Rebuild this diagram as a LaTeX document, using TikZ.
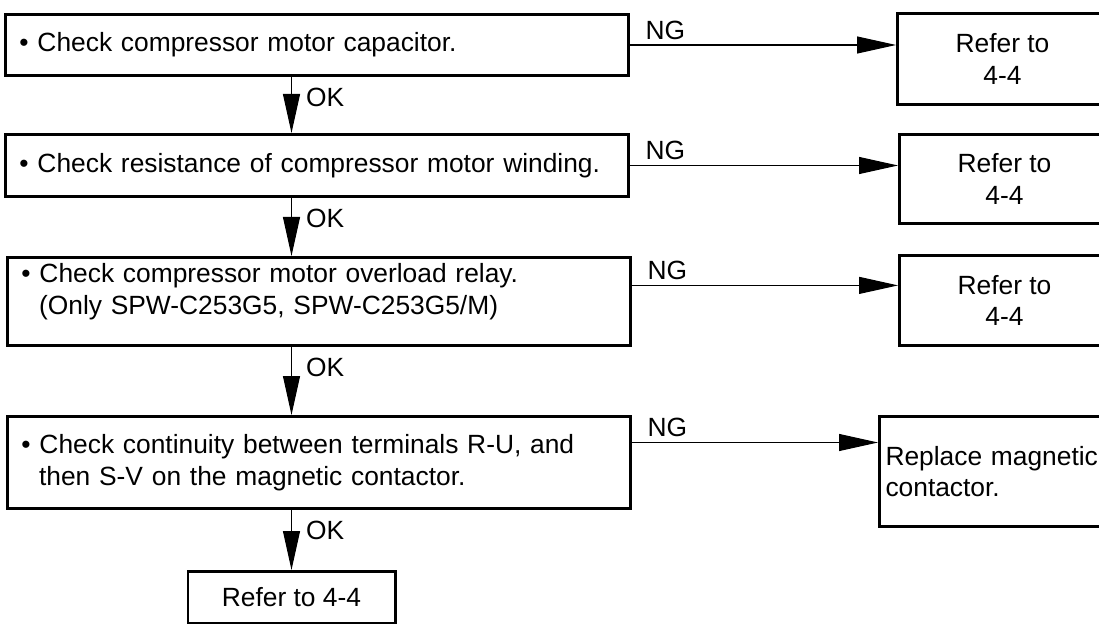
\documentclass[tikz,border=0pt]{standalone}
\usepackage{fontspec}
\setmainfont{Liberation Sans}
\usetikzlibrary{arrows.meta}
\tikzset{
    every node/.style={font=\fontsize{15}{18}\selectfont},
    % Check step box
    check/.style={
        rectangle,
        draw=black,
        line width=1.7pt,
        anchor=north west,
        text width=11.9cm,
        inner xsep=0.28cm,
        align=left
    },
    % Result box on the right
    result/.style={
        rectangle,
        draw=black,
        line width=1.7pt,
        anchor=north west,
        minimum width=4.2cm,
        align=center
    },
    % Arrow style
    arrow/.style={
        -{Triangle[length=0.78cm, width=0.34cm]},
        line width=0.6pt
    },
    % Branch labels
    oklabel/.style={anchor=north west, inner sep=0pt, xshift=0.28cm, yshift=-0.22cm},
    nglabel/.style={anchor=south west, inner sep=0pt, xshift=0.3cm, yshift=0.1cm}
}

\begin{document}
\begin{tikzpicture}
    \useasboundingbox (0,0) rectangle (21.98,-12.48);

    % Check steps
    \node (chk1) [check, minimum height=1.22cm] at (0.08,-0.26) {\textbullet\ Check compressor motor capacitor.};
    \node (chk2) [check, minimum height=1.24cm] at (0.08,-2.66) {\textbullet\ Check resistance of compressor motor winding.};
    \node (chk3) [check, text depth=1.14cm] at (0.12,-5.12) {\textbullet\ Check compressor motor overload relay.\\\ \ (Only SPW-C253G5, SPW-C253G5/M)};
    \node (chk4) [check, minimum height=1.84cm] at (0.12,-8.30) {\textbullet\ Check continuity between terminals R-U, and\\\ \ then S-V on the magnetic contactor.};
    \node (last) [result, anchor=north, minimum width=4.14cm, minimum height=1.04cm] at (5.83,-11.40) {Refer to 4-4};

    % Results on NG
    \node (ref1) [result, minimum height=1.82cm] at (17.92,-0.24) {Refer to\\4-4};
    \node (ref2) [result, minimum height=1.78cm] at (17.96,-2.66) {Refer to\\4-4};
    \node (ref3) [result, minimum height=1.80cm] at (17.96,-5.08) {Refer to\\4-4};
    \node (repl) [result, align=left, text width=4.8cm, inner xsep=0.12cm, minimum height=2.2cm] at (17.56,-8.30) {Replace magnetic\\contactor.};

    \draw [arrow] (chk1.south -| last) -- (chk2.north -| last) node [oklabel, at start] {OK};
    \draw [arrow] (chk2.south -| last) -- (chk3.north -| last) node [oklabel, at start] {OK};
    \draw [arrow] (chk3.south -| last) -- (chk4.north -| last) node [oklabel, at start] {OK};
    \draw [arrow] (chk4.south -| last) -- (last.north) node [oklabel, at start] {OK};

    \draw [arrow] (chk1.east) -- (chk1.east -| ref1.west) node [nglabel, at start] {NG};
    \draw [arrow] (chk2.east) -- (chk2.east -| ref2.west) node [nglabel, at start] {NG};
    \draw [arrow] ([yshift=0.32cm]chk3.east) -- ([yshift=0.32cm]chk3.east -| ref3.west) node [nglabel, at start] {NG};
    \draw [arrow] ([yshift=0.4cm]chk4.east) -- ([yshift=0.4cm]chk4.east -| repl.west) node [nglabel, at start] {NG};
\end{tikzpicture}
\end{document}
